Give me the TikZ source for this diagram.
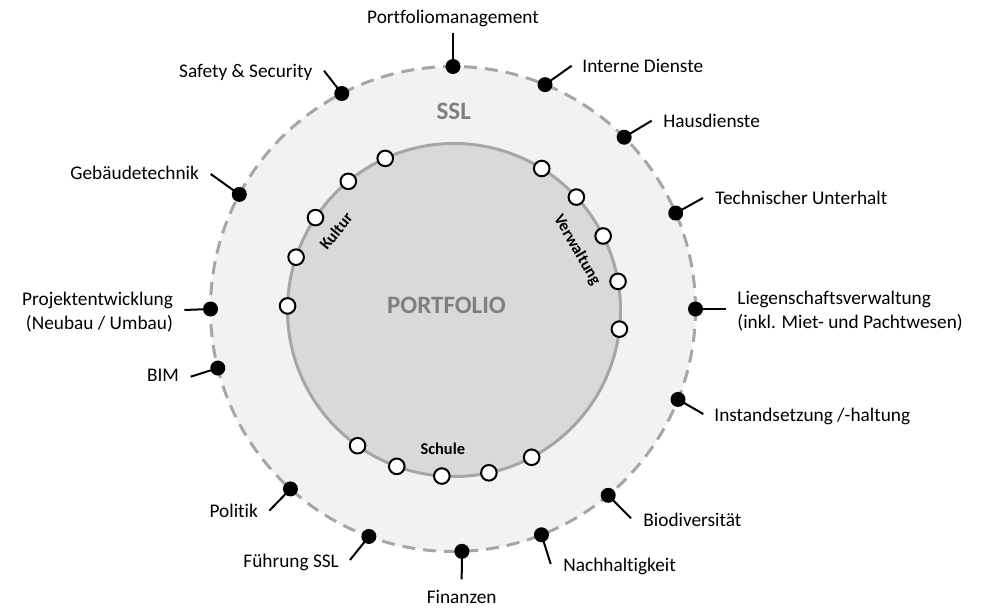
\documentclass[tikz,border=0pt]{standalone}
\usepackage{fontspec}
\setmainfont{Carlito}[Ligatures={NoCommon}]
\usetikzlibrary{calc}
\definecolor{ringfill}{HTML}{F2F2F2}
\definecolor{corefill}{HTML}{D9D9D9}
\definecolor{coreline}{HTML}{A6A6A6}
\definecolor{dashline}{HTML}{A6A6A6}
\definecolor{titlegray}{HTML}{7F7F7F}
\begin{document}
\begin{tikzpicture}[x=0.5pt,y=-0.5pt,
  bdot/.style={circle,fill=black,inner sep=0pt,minimum size=7.5pt},
  wdot/.style={circle,fill=white,draw=black,line width=1pt,inner sep=0pt,minimum size=7.8pt},
  lbl/.style={inner sep=0pt,font=\fontsize{9.65}{12}\selectfont},
  conn/.style={line width=1pt},
  seg/.style={inner sep=0pt,font=\fontsize{8.2}{9.8}\selectfont\bfseries},
  title/.style={inner sep=0pt,text=titlegray,font=\fontsize{12.5}{15}\selectfont\bfseries}]
\useasboundingbox (0,0) rectangle (989,609);
\coordinate (C) at (453,309);
\coordinate (CI) at (454,310);
% rings
\draw[dashline,line width=1.5pt,dash pattern=on 6.5pt off 4pt,fill=ringfill] (C) circle[radius=121.25pt];
\draw[coreline,line width=1.5pt,fill=corefill] (CI) circle[radius=83.25pt];
% titles
\node[title] (ssl) at (453.7,111) {SSL};
\node[title] (port) at (446.5,305) {PORTFOLIO};
\node[seg,rotate=51] (kultur) at (336,231) {Kultur};
\node[seg,rotate=-60] (verw) at (577,250) {Verwaltung};
\node[seg] (schule) at (442.8,449) {Schule};
% white dots on inner circle
\foreach \a [count=\i] in {178.6,161.5,146.3,129.4,114.4,58.2,42.7,26.4,9.9,-6.6,-125.4,-110.1,-94.2,-77.9,-62.2}
  \node[wdot] (w\i) at ($(CI)+(\a:83.25pt)$) {};
% black dots on outer circle
\node[bdot] (pm) at ($(C)+(90:121.25pt)$) {};
\node[bdot] (id) at ($(C)+(67.7:121.25pt)$) {};
\node[bdot] (hd) at ($(C)+(45.1:121.25pt)$) {};
\node[bdot] (tu) at ($(C)+(23.3:121.25pt)$) {};
\node[bdot] (lv) at ($(C)+(0:121.25pt)$) {};
\node[bdot] (is) at ($(C)+(-21.9:121.25pt)$) {};
\node[bdot] (bd) at ($(C)+(-50.2:121.25pt)$) {};
\node[bdot] (nh) at ($(C)+(-68.6:121.25pt)$) {};
\node[bdot] (fi) at ($(C)+(-87.9:121.25pt)$) {};
\node[bdot] (fs) at ($(C)+(-110.3:121.25pt)$) {};
\node[bdot] (po) at ($(C)+(-132.1:121.25pt)$) {};
\node[bdot] (bim) at ($(C)+(-165.9:121.25pt)$) {};
\node[bdot] (pe) at ($(C)+(180:121.25pt)$) {};
\node[bdot] (gt) at ($(C)+(151.8:121.25pt)$) {};
\node[bdot] (ss) at ($(C)+(117.3:121.25pt)$) {};
% connector ends
\coordinate (pmE) at (453,33.5);
\coordinate (idE) at (571.7,65.7);
\coordinate (hdE) at (651.7,120.7);
\coordinate (tuE) at (703,198);
\coordinate (lvE) at (726,309);
\coordinate (isE) at (703.3,414);
\coordinate (bdE) at (631,518.3);
\coordinate (nhE) at (550.7,564);
\coordinate (fiE) at (461.7,579.3);
\coordinate (fsE) at (350,560);
\coordinate (poE) at (269.3,510.7);
\coordinate (bimE) at (190.7,376.7);
\coordinate (peE) at (184.3,310);
\coordinate (gtE) at (210.7,174);
\coordinate (ssE) at (324,70.7);
\foreach \n in {pm,id,hd,tu,lv,is,bd,nh,fi,fs,po,bim,pe,gt,ss}
  \draw[conn] (\n.center) -- (\n E);
% labels
\node[lbl,anchor=base] (pmL) at (453,24) {Portfoliomanagement};
\node[lbl,anchor=base west] (idL) at (582,72.3) {Interne Dienste};
\node[lbl,anchor=base west] (hdL) at (663,127.3) {Hausdienste};
\node[lbl,anchor=base west] (tuL) at (715,205) {Technischer Unterhalt};
\node[lbl,anchor=west,align=left] (lvL) at (737,311.3) {Liegenschaftsverwaltung\\(inkl. Miet- und Pachtwesen)};
\node[lbl,anchor=base west] (isL) at (714,421) {Instandsetzung /-haltung};
\node[lbl,anchor=base west] (bdL) at (643,526) {Biodiversität};
\node[lbl,anchor=base west] (nhL) at (563,571) {Nachhaltigkeit};
\node[lbl,anchor=base] (fiL) at (461.7,603.3) {Finanzen};
\node[lbl,anchor=base east] (fsL) at (339.3,567.3) {Führung SSL};
\node[lbl,anchor=base east] (poL) at (258.3,517.3) {Politik};
\node[lbl,anchor=base east] (bimL) at (179.3,381.7) {BIM};
\node[lbl,anchor=east,align=right] (peL) at (173.3,312) {Projektentwicklung\\(Neubau / Umbau)};
\node[lbl,anchor=base east] (gtL) at (199.3,180) {Gebäudetechnik};
\node[lbl,anchor=base east] (ssL) at (312.7,77.3) {Safety \& Security};
\end{tikzpicture}
\end{document}
